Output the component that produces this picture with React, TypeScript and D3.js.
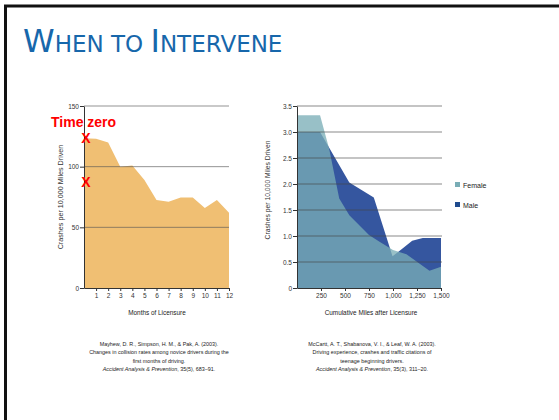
import { useEffect, useRef } from 'react';
import * as d3 from 'd3';

// Left chart: crash rate by months of licensure
const months = [0, 1, 2, 3, 4, 5, 6, 7, 8, 9, 10, 11, 12];
const monthRates = [123.5, 123, 120, 100, 101, 89, 72.5, 71, 74.5, 74.5, 66, 72.5, 62];
const monthTicks = [1, 2, 3, 4, 5, 6, 7, 8, 9, 10, 11, 12];
const monthRateTicks = [0, 50, 100, 150];

// Right chart: crash rate by cumulative miles, by sex
const femaleMiles = [0, 240, 335, 440, 545, 750, 860, 1000, 1140, 1380, 1500];
const femaleRates = [3.32, 3.32, 2.68, 1.72, 1.4, 1.02, 0.89, 0.73, 0.65, 0.33, 0.41];
const maleMiles = [0, 240, 545, 800, 995, 1060, 1200, 1310, 1500];
const maleRates = [3.0, 3.0, 2.03, 1.74, 0.61, 0.7, 0.91, 0.96, 0.96];
const mileTicks = [250, 500, 750, 1000, 1250, 1500];
const mileRateTicks = [0, 0.5, 1, 1.5, 2, 2.5, 3, 3.5];

const legendLabels = ['Female', 'Male'];

const leftCitation = [
  'Mayhew, D. R., Simpson, H. M., & Pak, A. (2003).',
  'Changes in collision rates among novice drivers during the',
  'first months of driving.',
  ', 35(5), 683–91.',
];
const rightCitation = [
  'McCartt, A. T., Shabanova, V. I., & Leaf, W. A. (2003).',
  'Driving experience, crashes and traffic citations of',
  'teenage beginning drivers.',
  ', 35(3), 311–20.',
];

const FONT = "'Liberation Sans', Arial, sans-serif";

const App = () => {
  const ref = useRef(null);
  const width = 559;
  const height = 420;

  useEffect(() => {
    const svg = d3.select(ref.current);
    svg.selectAll('*').remove();

    // slide frame
    svg.append('path')
      .attr('d', `M5.5,${height} V6 H${width}`)
      .attr('fill', 'none')
      .attr('stroke', '#111')
      .attr('stroke-width', 3);

    // title in small caps
    const title = svg.append('text')
      .attr('x', 23)
      .attr('y', 52)
      .attr('fill', '#1767ab')
      .attr('font-family', "'DejaVu Sans', Verdana, sans-serif");
    [['W', 32], ['HEN TO ', 23], ['I', 32], ['NTERVENE', 23]].forEach(([t, s]) => {
      title.append('tspan').attr('font-size', s).text(t);
    });

    const top = 106;
    const bottom = 288;

    const styleAxis = (g) => {
      g.select('.domain').attr('stroke', '#333');
      g.selectAll('.tick line').attr('stroke', '#333');
      g.selectAll('.tick text')
        .attr('fill', '#333')
        .attr('font-family', FONT)
        .attr('font-size', 6.5);
    };

    // ---------- left chart ----------
    const x1 = d3.scaleLinear().domain([0, 12]).range([84, 229]);
    const y1 = d3.scaleLinear().domain([0, 150]).range([bottom, top]);

    const area1 = d3.area()
      .x((d, i) => x1(months[i]))
      .y0(y1(0))
      .y1((d) => y1(d));

    svg.append('path')
      .datum(monthRates)
      .attr('d', area1)
      .attr('fill', '#f0bf73');

    svg.append('g')
      .selectAll('line')
      .data(monthRateTicks.filter((d) => d > 0))
      .join('line')
      .attr('x1', x1(0))
      .attr('x2', x1(12))
      .attr('y1', (d) => y1(d))
      .attr('y2', (d) => y1(d))
      .attr('stroke', '#555')
      .attr('stroke-opacity', 0.7)
      .attr('stroke-width', 0.9);

    svg.append('g')
      .attr('transform', `translate(0,${bottom})`)
      .call(d3.axisBottom(x1).tickValues(monthTicks).tickSize(3).tickPadding(2).tickSizeOuter(0))
      .call(styleAxis);

    svg.append('g')
      .attr('transform', `translate(${x1(0)},0)`)
      .call(d3.axisLeft(y1).tickValues(monthRateTicks).tickSize(4).tickPadding(1).tickSizeOuter(0))
      .call(styleAxis);

    svg.append('text')
      .attr('transform', `translate(63,197) rotate(-90)`)
      .attr('text-anchor', 'middle')
      .attr('font-family', FONT)
      .attr('font-size', 7.2)
      .attr('fill', '#333')
      .text('Crashes per 10,000 Miles Driven');

    svg.append('text')
      .attr('x', 157)
      .attr('y', 315)
      .attr('text-anchor', 'middle')
      .attr('font-family', FONT)
      .attr('font-size', 6.4)
      .attr('fill', '#222')
      .text('Months of Licensure');

    // annotations
    svg.append('text')
      .attr('x', 51)
      .attr('y', 127)
      .attr('font-family', FONT)
      .attr('font-weight', 'bold')
      .attr('font-size', 14)
      .attr('fill', '#ff0000')
      .text('Time zero');

    svg.append('g')
      .selectAll('text')
      .data([monthRates[0], 87])
      .join('text')
      .attr('x', x1(0) + 2)
      .attr('y', (d) => y1(d) + 5)
      .attr('text-anchor', 'middle')
      .attr('font-family', FONT)
      .attr('font-weight', 'bold')
      .attr('font-size', 14)
      .attr('fill', '#ff0000')
      .text('X');

    // ---------- right chart ----------
    const x2 = d3.scaleLinear().domain([0, 1500]).range([297, 441]);
    const y2 = d3.scaleLinear().domain([0, 3.5]).range([bottom, top]);

    const area2 = (xs) => d3.area()
      .x((d, i) => x2(xs[i]))
      .y0(y2(0))
      .y1((d) => y2(d));

    svg.append('path')
      .datum(maleRates)
      .attr('d', area2(maleMiles))
      .attr('fill', '#35569f');

    svg.append('path')
      .datum(femaleRates)
      .attr('d', area2(femaleMiles))
      .attr('fill', '#79adb6')
      .attr('fill-opacity', 0.77);

    svg.append('g')
      .selectAll('line')
      .data(mileRateTicks.filter((d) => d > 0))
      .join('line')
      .attr('x1', x2(0))
      .attr('x2', x2(1500) + 1)
      .attr('y1', (d) => y2(d))
      .attr('y2', (d) => y2(d))
      .attr('stroke', '#444')
      .attr('stroke-opacity', 0.7)
      .attr('stroke-width', 0.9);

    svg.append('g')
      .attr('transform', `translate(0,${bottom})`)
      .call(d3.axisBottom(x2).tickValues(mileTicks).tickSize(3).tickPadding(2).tickSizeOuter(0)
        .tickFormat(d3.format(',')))
      .call(styleAxis);

    svg.append('g')
      .attr('transform', `translate(${x2(0)},0)`)
      .call(d3.axisLeft(y2).tickValues(mileRateTicks).tickSize(4).tickPadding(1).tickSizeOuter(0)
        .tickFormat((d) => (d === 0 ? '0' : d3.format('.1f')(d))))
      .call(styleAxis);

    svg.append('text')
      .attr('transform', `translate(270,190) rotate(-90)`)
      .attr('text-anchor', 'middle')
      .attr('font-family', FONT)
      .attr('font-size', 6.8)
      .attr('fill', '#333')
      .text('Crashes per 10,000 Miles Driven');

    svg.append('text')
      .attr('x', 371)
      .attr('y', 315)
      .attr('text-anchor', 'middle')
      .attr('font-family', FONT)
      .attr('font-size', 6.4)
      .attr('fill', '#222')
      .text('Cumulative Miles after Licensure');

    // legend
    const legendColor = d3.scaleOrdinal().domain(legendLabels).range(['#79adb6', '#1f4b8e']);
    const legend = svg.append('g')
      .selectAll('g')
      .data(legendLabels)
      .join('g')
      .attr('transform', (d, i) => `translate(455,${182 + i * 20})`);
    legend.append('rect')
      .attr('width', 5)
      .attr('height', 5)
      .attr('fill', (d) => legendColor(d));
    legend.append('text')
      .attr('x', 8)
      .attr('y', 5.5)
      .attr('font-family', FONT)
      .attr('font-size', 7)
      .attr('fill', '#222')
      .text((d) => d);

    // citations
    const citation = (lines, cx) => {
      const g = svg.append('g')
        .attr('font-family', FONT)
        .attr('font-size', 5.4)
        .attr('fill', '#222')
        .attr('text-anchor', 'middle');
      lines.forEach((line, i) => {
        const t = g.append('text').attr('x', cx).attr('y', 346 + i * 8.3);
        if (i === 3) {
          t.append('tspan').attr('font-style', 'italic').text('Accident Analysis & Prevention');
        }
        t.append('tspan').text(line);
      });
    };
    citation(leftCitation, 159);
    citation(rightCitation, 372);
  }, []);

  return (
    <svg
      ref={ref}
      width={width}
      height={height}
      viewBox={`0 0 ${width} ${height}`}
      style={{ position: 'absolute', left: 0, top: 0, background: '#fff' }}
    />
  );
};

export default App;
